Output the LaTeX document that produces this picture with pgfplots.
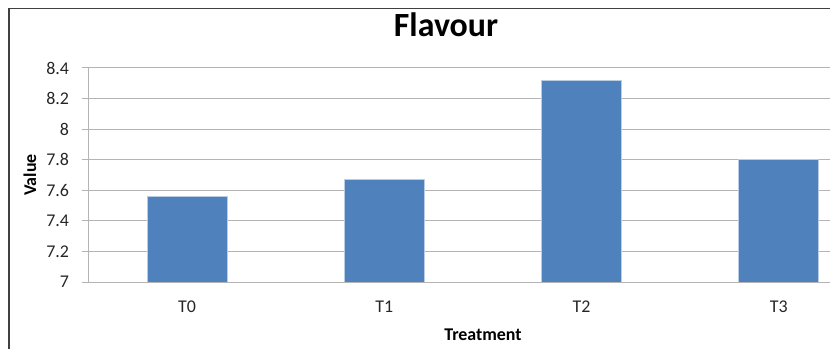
\documentclass[border=0pt]{standalone}
\usepackage{pgfplots}
\pgfplotsset{compat=1.18}
\usepackage{fontspec}
\setmainfont{Carlito}
\definecolor{barblue}{HTML}{4F81BD}
\definecolor{baredge}{HTML}{B9CDE5}
\definecolor{gridgray}{HTML}{B4B4B4}
\definecolor{framegray}{HTML}{404040}
\begin{document}
\begin{tikzpicture}
\useasboundingbox (0bp,0bp) rectangle (830bp,349bp);
\clip (0bp,0bp) rectangle (830bp,349bp);
% chart frame
\draw[framegray, line width=1.2bp] (9bp,-20bp) -- (9bp,340.5bp) -- (860bp,340.5bp);
\node[font=\fontsize{34}{38}\selectfont\bfseries] at (446bp,324bp) {Flavour};
\begin{axis}[
  at={(88.5bp,67bp)}, anchor=south west,
  scale only axis, width=789bp, height=214bp,
  xmin=-0.5, xmax=3.5, ymin=7, ymax=8.4,
  xtick=data, xticklabels={T0,T1,T2,T3},
  ytick={7,7.2,...,8.4},
  /pgf/number format/assume math mode=true,
  /pgf/number format/fixed,
  ymajorgrids, grid style={gridgray, line width=1bp},
  axis x line*=bottom, axis y line*=left,
  axis line style={gridgray, line width=1bp},
  x axis line style={-}, y axis line style={-},
  major x tick style={draw=none},
  major y tick style={gridgray, line width=1bp},
  tick align=outside, major tick length=7bp,
  ticklabel style={font=\fontsize{18}{20}\selectfont, text=black!85},
  yticklabel style={xshift=-9bp},
  xticklabel style={yshift=-8bp},
  xlabel={Treatment}, ylabel={Value},
  label style={font=\fontsize{18}{20}\selectfont\bfseries},
  xlabel style={at={(rel axis cs:0.5,0)}, anchor=center, yshift=-53bp},
  ylabel style={at={(rel axis cs:0,0.5)}, anchor=center, yshift=58.5bp},
]
\addplot[ybar, bar width=80bp, fill=barblue, draw=baredge, line width=0.8bp]
  coordinates {(0,7.56) (1,7.67) (2,8.32) (3,7.80)};
\end{axis}
\end{tikzpicture}
\end{document}
